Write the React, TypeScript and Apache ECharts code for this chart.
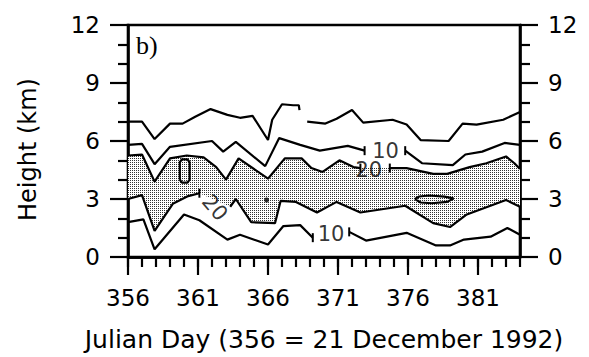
import React, { useEffect, useRef } from "react";
import * as echarts from "echarts";

// Axis ranges / ticks
const dayMin = 356;
const dayMax = 384;
const dayMajorStep = 5;
const heightMin = 0;
const heightMax = 12;
const heightStep = 3;

// Contour lines, [Julian day, height km]; segments broken where a label sits
const contourTopA = [[356, 7.0], [357, 7.0], [357.9, 6.1], [359, 6.9], [359.9, 6.9], [360.8, 7.25], [361.9, 7.65], [363.1, 7.35], [364, 7.2], [364.9, 7.3], [366, 6.05], [366.3, 7.1], [367, 7.9], [367.8, 7.85], [368.2, 7.85], [368.25, 7.6]];
const contourTopB = [[368.8, 7.0], [370.1, 6.9], [370.9, 7.15], [372, 7.6], [372.8, 6.95], [374.9, 7.1], [375.9, 6.85], [376.9, 6.05], [378.9, 6.0], [379.9, 6.9], [380.9, 6.85], [382.8, 7.1], [384, 7.5]];
const upper10A = [[356, 5.8], [357, 5.85], [357.9, 4.8], [359, 5.7], [362, 6.0], [362.8, 5.45], [363.7, 5.95], [365.8, 4.7], [366.8, 6.15], [368.3, 5.8], [369.7, 5.5], [371.7, 5.75], [372.9, 5.5]];
const upper10B = [[375.8, 5.5], [377, 4.85], [379.2, 4.75], [380.1, 5.3], [381.3, 5.45], [382.9, 5.9], [384, 5.8]];
const upper20A = [[356, 5.25], [357, 5.3], [357.9, 3.9], [359, 5.1], [360.2, 5.25], [361.4, 5.15], [362.3, 4.65], [363, 4.0], [363.9, 5.1], [366, 4.05], [367.2, 5.1], [368.4, 5.1], [369.1, 4.6], [369.9, 4.4], [371.1, 5.0], [372.1, 4.65], [372.6, 4.6]];
const upper20B = [[374.7, 4.6], [375.9, 4.6], [377.8, 4.3], [378.8, 4.3], [380.4, 4.65], [381.6, 4.85], [383, 5.2], [383.6, 4.85], [384, 4.55]];
const lower20A = [[356, 3.0], [357, 3.2], [357.9, 1.35], [359.2, 2.75], [360.3, 3.15], [361.1, 3.3]];
const lower20B = [[363.3, 2.6], [363.7, 3.0], [364.8, 1.8], [366.5, 1.75], [366.9, 2.9], [368, 2.85], [369.5, 2.3], [370.9, 2.85], [372.6, 2.3], [375.8, 2.65], [377.8, 1.75], [379, 1.55], [380.2, 2.2], [383, 2.95], [384, 2.6]];
const lower10A = [[356, 1.8], [357.1, 1.95], [357.9, 0.4], [360, 2.2], [361.1, 1.9], [363.1, 0.9], [364, 1.15], [366, 0.65], [367.1, 1.6], [368.3, 1.65], [369.2, 1.0]];
const lower10B = [[371.8, 1.3], [373, 0.85], [375.9, 1.25], [378, 0.6], [379, 0.6], [380, 0.9], [381.9, 1.05], [383.1, 1.5], [384, 1.15]];

// Small closed contours
const closedLoop360 = [[359.7, 4.0], [359.7, 4.9], [359.85, 5.05], [360.25, 5.05], [360.4, 4.9], [360.4, 4.0], [360.25, 3.85], [359.85, 3.85], [359.7, 4.0]];
const closedLoop377 = [[376.5, 3.0], [376.8, 3.13], [377.5, 3.18], [378.6, 3.12], [379.25, 3.03], [378.8, 2.85], [377.7, 2.78], [376.9, 2.82], [376.5, 3.0]];

// Isolated point
const dotPoints = [[365.9, 2.95]];

// Contour labels: [day, height, text, angle in degrees]
const contourLabels: [number, number, string, number][] = [
  [374.4, 5.5, "10", 0],
  [373.2, 4.52, "20", 0],
  [370.5, 1.17, "10", 0],
  [362.2, 2.55, "20", -50],
];

const panelLabel = "b)";
const xTitle = "Julian Day (356 = 21 December 1992)";
const yTitle = "Height (km)";

const FONT = "DejaVu Sans";

function makeStipple() {
  const c = document.createElement("canvas");
  c.width = 2;
  c.height = 2;
  const ctx = c.getContext("2d");
  if (ctx) {
    ctx.fillStyle = "#ffffff";
    ctx.fillRect(0, 0, 2, 2);
    ctx.fillStyle = "#333333";
    ctx.fillRect(0, 0, 1, 1);
  }
  return c;
}

export default function App() {
  const ref = useRef<HTMLDivElement>(null);

  useEffect(() => {
    if (!ref.current) return;
    const chart = echarts.init(ref.current, undefined, { renderer: "svg" });
    const stipple = makeStipple();

    const bandUpper = [...upper20A, ...upper20B];
    const bandLower = [...lower20A, ...lower20B].slice().reverse();
    const bandPoly = [...bandUpper, ...bandLower];

    const cap = { symbol: "rect", symbolSize: [2, 9] };
    const lineSeries = (data: number[][], caps: number[]) => ({
      type: "line",
      xAxisIndex: 1,
      yAxisIndex: 0,
      data: data.map((p, i) => (caps.includes(i) ? { value: p, ...cap } : { value: p })),
      symbol: "none",
      showSymbol: true,
      lineStyle: { color: "#000", width: 2.2 },
      itemStyle: { color: "#000" },
      z: 3,
      silent: true,
    });

    const tickLine = { color: "#000", width: 2.2 };
    const axisLine = { show: true, lineStyle: { color: "#000", width: 2.6 } };

    const option: any = {
      animation: false,
      grid: { left: 128, right: 69, top: 25, bottom: 91, show: true, borderColor: "#000", borderWidth: 2.6, backgroundColor: "transparent" },
      xAxis: [
        {
          type: "value", min: dayMin, max: dayMax, interval: 1, position: "bottom",
          axisLine, axisTick: { show: true, length: 10, lineStyle: tickLine },
          axisLabel: { show: false }, splitLine: { show: false },
        },
        {
          type: "value", min: dayMin, max: dayMax, interval: dayMajorStep, position: "bottom",
          axisLine, axisTick: { show: true, length: 18, lineStyle: tickLine },
          axisLabel: { show: true, showMaxLabel: false, fontSize: 23, fontFamily: FONT, color: "#000", margin: 29 },
          splitLine: { show: false },
          name: xTitle, nameLocation: "middle", nameGap: 70,
          nameTextStyle: { fontSize: 25, fontFamily: FONT, color: "#000" },
        },
      ],
      yAxis: [
        {
          type: "value", min: heightMin, max: heightMax, interval: heightStep, position: "left",
          axisLine, axisTick: { show: true, length: 18, lineStyle: tickLine },
          minorTick: { show: true, splitNumber: 3, length: 10, lineStyle: tickLine },
          axisLabel: { fontSize: 23, fontFamily: FONT, color: "#000", margin: 28 },
          splitLine: { show: false }, minorSplitLine: { show: false },
          name: yTitle, nameLocation: "middle", nameGap: 88,
          nameTextStyle: { fontSize: 24, fontFamily: FONT, color: "#000", padding: [0, 17, 0, 0] },
        },
        {
          type: "value", min: heightMin, max: heightMax, interval: heightStep, position: "right",
          axisLine, axisTick: { show: true, length: 18, lineStyle: tickLine },
          minorTick: { show: true, splitNumber: 3, length: 10, lineStyle: tickLine },
          axisLabel: { fontSize: 23, fontFamily: FONT, color: "#000", margin: 28 },
          splitLine: { show: false }, minorSplitLine: { show: false },
        },
      ],
      series: [
        {
          type: "custom",
          xAxisIndex: 1,
          yAxisIndex: 0,
          data: [[dayMin, heightMin]],
          z: 1,
          silent: true,
          renderItem: (_params: any, api: any) => ({
            type: "polygon",
            shape: { points: bandPoly.map((p) => api.coord(p)) },
            style: { fill: { image: stipple, repeat: "repeat" }, stroke: null },
          }),
        },
        lineSeries(contourTopA, []),
        lineSeries(contourTopB, []),
        lineSeries(upper10A, [upper10A.length - 1]),
        lineSeries(upper10B, [0]),
        lineSeries(upper20A, [upper20A.length - 1]),
        lineSeries(upper20B, [0]),
        lineSeries(lower20A, [lower20A.length - 1]),
        lineSeries(lower20B, []),
        lineSeries(lower10A, [lower10A.length - 1]),
        lineSeries(lower10B, [0]),
        lineSeries(closedLoop360, []),
        lineSeries(closedLoop377, []),
        {
          type: "scatter", xAxisIndex: 1, yAxisIndex: 0, data: dotPoints,
          symbol: "circle", symbolSize: 5, itemStyle: { color: "#000" }, z: 4, silent: true,
        },
        {
          type: "scatter", xAxisIndex: 1, yAxisIndex: 0, symbolSize: 0, z: 5, silent: true,
          data: contourLabels.map(([d, h, t, a]) => ({
            value: [d, h], name: t,
            label: { rotate: a },
          })),
          label: {
            show: true, position: "inside", formatter: (p: any) => p.name,
            fontSize: 21, fontFamily: FONT, color: "#000",
          },
        },
      ],
      graphic: [
        {
          type: "text", left: 136, top: 32, silent: true,
          style: { text: panelLabel, font: "26px 'Liberation Serif'", fill: "#000" },
        },
      ],
    };

    chart.setOption(option);
    return () => chart.dispose();
  }, []);

  return <div ref={ref} style={{ width: 589, height: 357, position: "absolute", left: 0, top: 0 }} />;
}
